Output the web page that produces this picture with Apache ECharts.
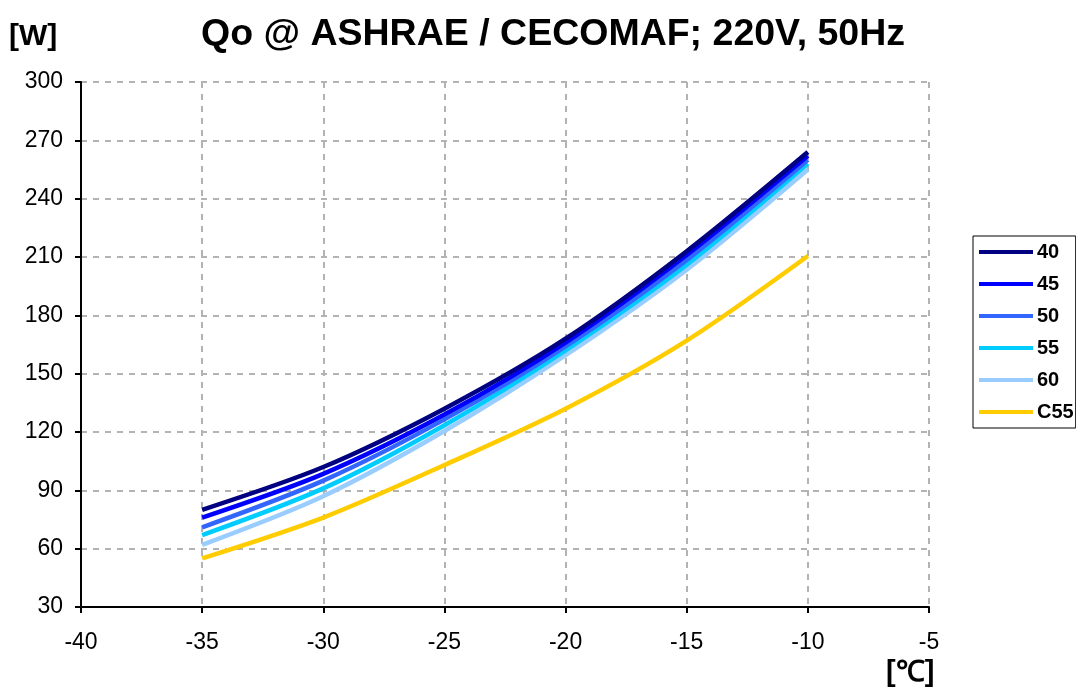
<!DOCTYPE html>
<html>
<head>
<meta charset="utf-8">
<script src="https://cdn.jsdelivr.net/npm/echarts@6/dist/echarts.min.js"></script>
<style>
html,body{margin:0;padding:0;background:#fff;}
#chart{width:1076px;height:690px;}
</style>
</head>
<body>
<div id="chart"></div>
<script>
const temps = [-35, -30, -25, -20, -15, -10];
const seriesNames = ['40', '45', '50', '55', '60', 'C55'];
const s40  = [80, 102, 132, 168, 213, 264];
const s45  = [76, 98.5, 129, 166, 211, 262];
const s50  = [71, 95, 126.5, 164, 208.5, 260];
const s55  = [67, 91, 123.5, 162, 206, 258];
const s60  = [62, 87, 120.5, 159.5, 203.5, 255];
const sC55 = [55, 76, 103, 132, 167, 210.5];
const seriesValues = [s40, s45, s50, s55, s60, sC55];
const colors = ['#000080', '#0000ff', '#3366ff', '#00ccff', '#99ccff', '#ffcc00'];

const chart = echarts.init(document.getElementById('chart'));
const font = 'Arial, "Liberation Sans", sans-serif';
const gridLine = {show: true, lineStyle: {color: '#b3b3b3', width: 2, type: [6, 6]}};

chart.setOption({
  animation: false,
  backgroundColor: '#fff',
  title: {
    text: 'Qo @ ASHRAE / CECOMAF; 220V, 50Hz',
    left: 548, textAlign: 'center', top: 11,
    textStyle: {fontFamily: font, fontSize: 37.5, fontWeight: 'bold', color: '#000'}
  },
  grid: {left: 81, right: 147, top: 82, bottom: 83},
  legend: {
    orient: 'vertical', left: 973, top: 236,
    padding: [6, 2, 6, 6],
    borderColor: '#000', borderWidth: 1,
    icon: 'rect', itemWidth: 54, itemHeight: 4, itemGap: 12,
    textStyle: {fontFamily: font, fontSize: 20, fontWeight: 'bold', color: '#000', padding: [0, 0, 0, -1]},
    data: seriesNames
  },
  xAxis: {
    type: 'value', min: -40, max: -5, interval: 5,
    axisLine: {show: true, onZero: false, lineStyle: {color: '#000', width: 2}},
    axisTick: {show: true, inside: false, length: 6, lineStyle: {color: '#000', width: 2}},
    axisLabel: {fontFamily: font, fontSize: 23, color: '#000', margin: 24},
    splitLine: gridLine
  },
  yAxis: {
    type: 'value', min: 30, max: 300, interval: 30,
    axisLine: {show: true, lineStyle: {color: '#000', width: 2}},
    axisTick: {show: true, inside: false, length: 6, lineStyle: {color: '#000', width: 2}},
    axisLabel: {fontFamily: font, fontSize: 23, color: '#000', margin: 18},
    splitLine: gridLine
  },
  graphic: [
    {type: 'text', left: 9, top: 22, style: {text: '[W]', font: 'bold 30px Arial, "Liberation Sans", sans-serif', fill: '#000'}},
    {type: 'text', left: 886, top: 658, style: {text: '[\u2103]', font: 'bold 29px Arial, "Liberation Sans", sans-serif', fill: '#000'}}
  ],
  series: seriesNames.map((n, i) => ({
    name: n, type: 'line', smooth: 0.3, showSymbol: false, symbol: 'none',
    data: temps.map((t, j) => [t, seriesValues[i][j]]),
    lineStyle: {color: colors[i], width: 4.5},
    itemStyle: {color: colors[i]},
    z: 10 - i
  }))
});
</script>
</body>
</html>
